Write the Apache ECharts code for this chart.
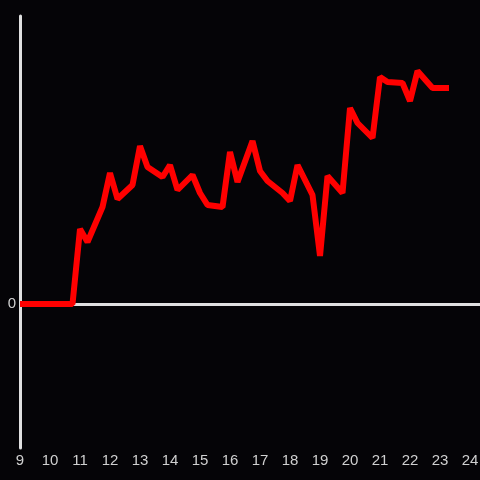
<!DOCTYPE html>
<html><head><meta charset="utf-8">
<script src="https://cdn.jsdelivr.net/npm/echarts@6/dist/echarts.min.js"></script>
<style>html,body{margin:0;padding:0;background:#050407;}#c{width:480px;height:480px;}</style>
</head><body><div id="c"></div>
<script>
const hours = [9, 10.75, 11, 11.25, 11.75, 12, 12.25, 12.75, 13, 13.25, 13.75, 14, 14.25, 14.75, 15, 15.25, 15.75, 16, 16.25, 16.75, 17, 17.25, 17.75, 18, 18.25, 18.75, 19, 19.25, 19.75, 20, 20.25, 20.75, 21, 21.25, 21.75, 22, 22.25, 22.75, 23.3];
const values = [0, 0, 75, 62, 97, 131, 105, 119, 158, 137, 127, 139, 114, 129, 111, 99, 97, 152, 122, 163, 133, 123, 111, 103, 139, 109, 48, 128, 111, 196, 181, 166, 227, 222, 221, 203, 233, 216, 216];
const xTicks = [9,10,11,12,13,14,15,16,17,18,19,20,21,22,23,24];

const chart = echarts.init(document.getElementById('c'));
chart.setOption({
  backgroundColor: '#050407',
  animation: false,
  grid: {left: 20, right: 0, top: 16, bottom: 32, containLabel: false, outerBoundsMode: 'none'},
  xAxis: {
    type: 'value', min: 9, max: 24.333, interval: 1,
    axisLine: {show: false}, axisTick: {show: false}, splitLine: {show: false},
    axisLabel: {color: '#d0d0d0', fontSize: 15, fontFamily: 'Liberation Sans', margin: 5,
      formatter: v => xTicks.includes(Math.round(v*1000)/1000) ? String(v) : ''}
  },
  yAxis: {
    type: 'value', min: -144, max: 288,
    axisLine: {show: true, lineStyle: {color: '#e0e0e0', width: 3}},
    axisTick: {show: false}, splitLine: {show: false},
    axisLabel: {color: '#d0d0d0', fontSize: 15, fontFamily: 'Liberation Sans', margin: 4,
      formatter: v => v === 0 ? '0' : ''}
  },
  series: [{
    type: 'line',
    data: hours.map((h, i) => [h, values[i]]),
    showSymbol: false,
    lineStyle: {color: '#ff0000', width: 6},
    z: 3,
    markLine: {
      silent: true, symbol: 'none', label: {show: false},
      lineStyle: {color: '#e0e0e0', width: 3, type: 'solid'},
      data: [{yAxis: 0}],
      z: 1
    }
  }]
});
</script></body></html>
